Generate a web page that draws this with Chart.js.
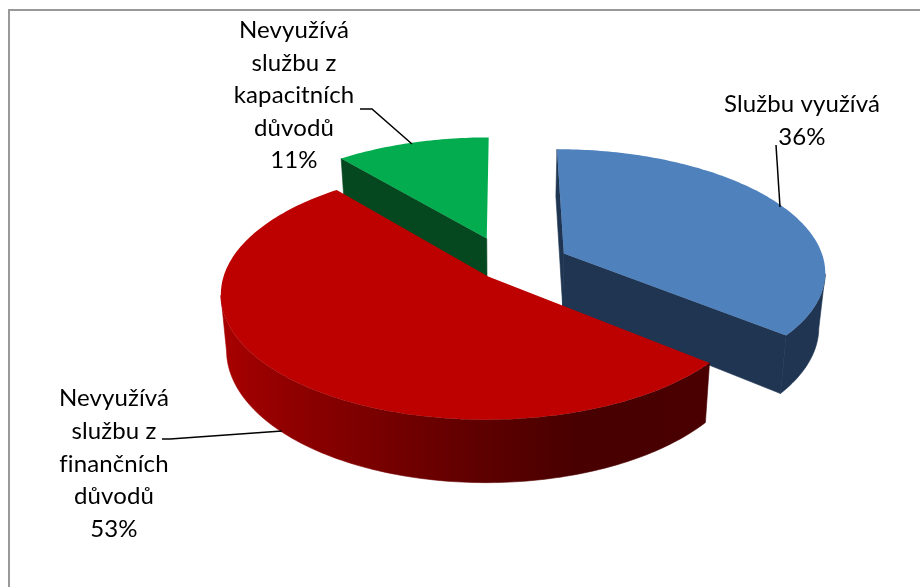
<!DOCTYPE html>
<html>
<head>
<meta charset="utf-8">
<script src="https://cdn.jsdelivr.net/npm/chart.js"></script>
<style>
    html, body { margin: 0; padding: 0; background: #fff; }
    canvas { display: block; }
</style>
</head>
<body>
<canvas id="chart" width="920" height="587"></canvas>
<script>
const categories = ["Službu využívá", "Nevyužívá službu z finančních důvodů", "Nevyužívá službu z kapacitních důvodů"];
const shares = [36, 53, 11];

const topColors = ["#4f81bd", "#bd0000", "#03ad4f"];
const sideColors = ["#1f3552", null, "#05471f"];

// how far each slice is pulled out of the pie, in radius units
const explode = [[0.232, 0.03], [-0.06, 0.22], [-0.068, -0.1]];

// perspective of the tilted disc
const view = { cx: 504, horizon: -650, dist: 900, k: 0.13, rx: 257, depth: 53, shrink: 0.98 };

// where the text goes, one entry per slice
const labelBoxes = [
    { x: 802, y: 112, step: 33, lines: ["Službu využívá"] },
    { x: 114, y: 406, step: 32.8, lines: ["Nevyužívá", "službu z", "finančních", "důvodů"] },
    { x: 294, y: 38, step: 32.6, lines: ["Nevyužívá", "službu z", "kapacitních", "důvodů"] }
];
const leaders = [
    [[776, 145], [780, 207]],
    [[162, 439], [170, 439], [282, 431]],
    [[360, 109], [372, 109], [412, 144]]
];

function project(X, Y, low) {
    const s = 1 / (1 - view.k * Y);
    const m = low ? view.shrink : 1;
    return {
        x: view.cx + view.rx * X * s * m,
        y: view.horizon + view.dist * s + (low ? view.depth * s : 0)
    };
}

// points around the slice rim, clockwise from the arc's start angle
function rimPoints(arc, shift) {
    const a0 = arc.startAngle + Math.PI / 2;
    const a1 = arc.endAngle + Math.PI / 2;
    const n = Math.max(2, Math.round((a1 - a0) / (Math.PI / 180)));
    const pts = [];
    for (let i = 0; i <= n; i++) {
        const t = a0 + (a1 - a0) * i / n;
        pts.push([shift[0] + Math.sin(t), shift[1] - Math.cos(t)]);
    }
    return pts;
}

function fillPoly(ctx, pts, color, seam) {
    ctx.beginPath();
    pts.forEach((p, i) => i ? ctx.lineTo(p.x, p.y) : ctx.moveTo(p.x, p.y));
    ctx.closePath();
    ctx.fillStyle = color;
    ctx.fill();
    // side faces share an edge, a thin stroke hides the gap between them
    if (seam) {
        ctx.strokeStyle = color;
        ctx.lineWidth = 0.6;
        ctx.stroke();
    }
}

function redGradient(ctx) {
    const g = ctx.createLinearGradient(220, 0, 710, 0);
    g.addColorStop(0, "#a80000");
    g.addColorStop(0.14, "#900000");
    g.addColorStop(0.37, "#720000");
    g.addColorStop(0.55, "#5c0000");
    g.addColorStop(0.73, "#480000");
    g.addColorStop(1, "#4a0000");
    return g;
}

const pie3d = {
    id: "pie3d",
    beforeDatasetDraw(chart) {
        const ctx = chart.ctx;
        const arcs = chart.getDatasetMeta(0).data;
        // far slices first
        const order = arcs.map((a, i) => i).sort((a, b) => explode[a][1] - explode[b][1]);

        ctx.save();
        order.forEach(i => {
            const shift = explode[i];
            const rim = rimPoints(arcs[i], shift);
            const side = sideColors[i] || redGradient(ctx);

            // outer wall: only the stretch that runs right to left on screen faces us
            const top = rim.map(p => project(p[0], p[1], false));
            const low = rim.map(p => project(p[0], p[1], true));
            const seen = [];
            for (let j = 0; j < top.length - 1; j++) {
                if (top[j + 1].x < top[j].x) {
                    if (!seen.length) seen.push(j);
                    seen.push(j + 1);
                }
            }
            if (seen.length) {
                fillPoly(ctx, seen.map(j => top[j]).concat(seen.map(j => low[j]).reverse()), side, true);
            }

            // the two cut faces, skipped when they are almost edge on
            const apexTop = project(shift[0], shift[1], false);
            const apexLow = project(shift[0], shift[1], true);
            const last = top.length - 1;
            if (top[0].x < apexTop.x - 3) fillPoly(ctx, [apexTop, top[0], low[0], apexLow], side, true);
            if (apexTop.x < top[last].x - 3) fillPoly(ctx, [top[last], apexTop, apexLow, low[last]], side, true);

            fillPoly(ctx, [apexTop].concat(top), arcs[i].options.backgroundColor, false);
        });
        ctx.restore();
        return false;
    },
    afterDraw(chart) {
        const ctx = chart.ctx;
        ctx.save();

        // frame, only top and left are in the picture
        ctx.fillStyle = "#999999";
        ctx.fillRect(8, 9, 912, 2);
        ctx.fillRect(8, 9, 2, 578);

        ctx.strokeStyle = "#000";
        ctx.lineWidth = 1.5;
        leaders.forEach(line => {
            ctx.beginPath();
            line.forEach((p, i) => i ? ctx.lineTo(p[0], p[1]) : ctx.moveTo(p[0], p[1]));
            ctx.stroke();
        });

        ctx.fillStyle = "#000";
        ctx.font = "24px Lato";
        ctx.letterSpacing = "0.1px"; // keeps the fi apart
        ctx.textAlign = "center";
        ctx.textBaseline = "alphabetic";
        labelBoxes.forEach((box, i) => {
            const lines = box.lines.concat(shares[i] + "%");
            lines.forEach((txt, j) => ctx.fillText(txt, box.x, box.y + j * box.step));
        });
        ctx.restore();
    }
};

new Chart(document.getElementById("chart"), {
    type: "pie",
    data: {
        labels: categories,
        datasets: [{ data: shares, backgroundColor: topColors, borderWidth: 0 }]
    },
    options: {
        responsive: false,
        animation: false,
        plugins: { legend: { display: false }, tooltip: { enabled: false } }
    },
    plugins: [pie3d]
});
</script>
</body>
</html>
